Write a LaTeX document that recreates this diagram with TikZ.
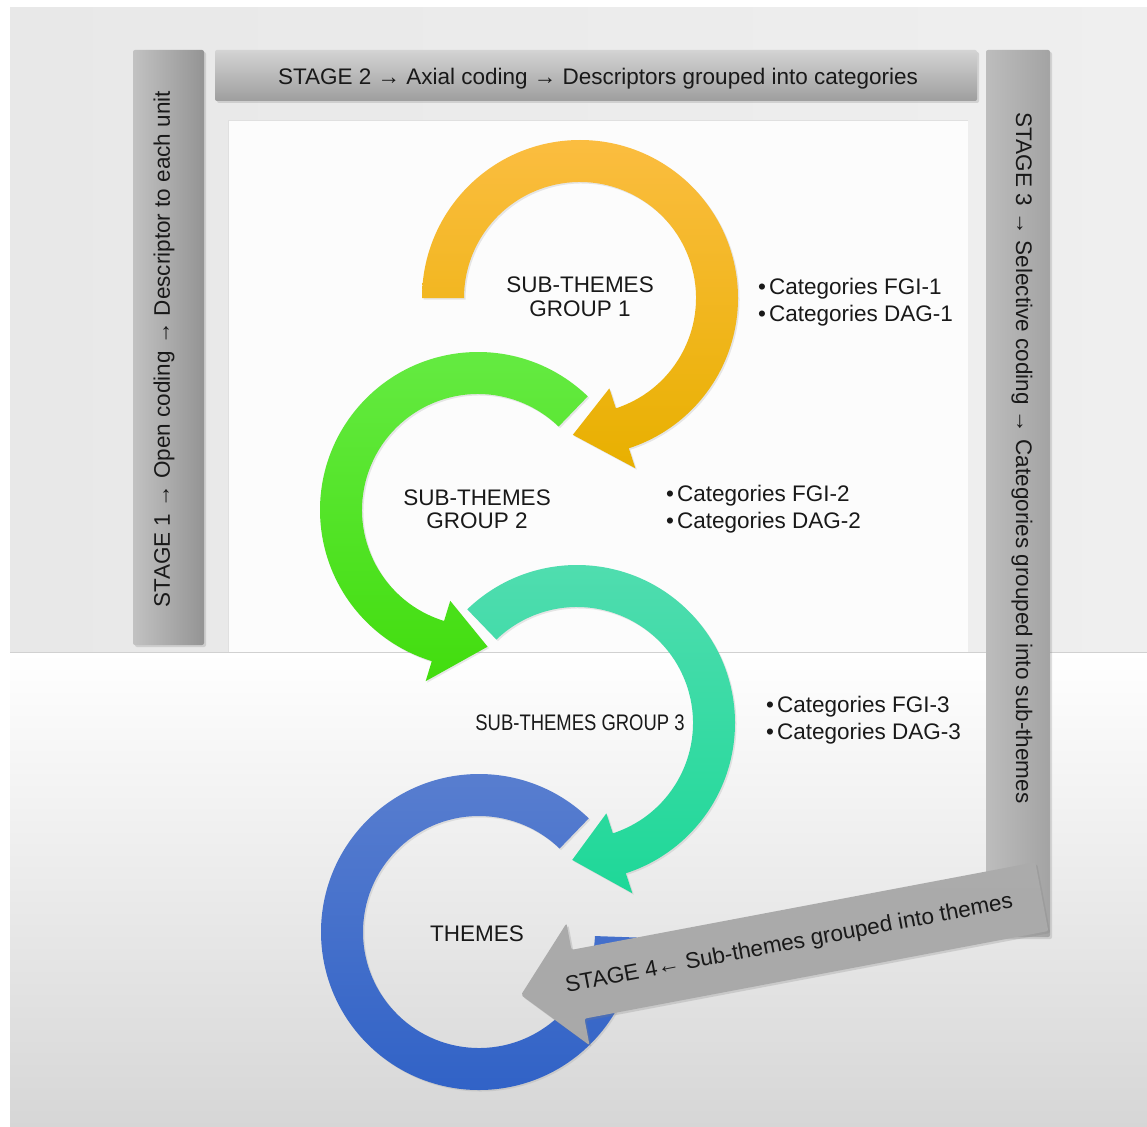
\documentclass[tikz,border=0pt]{standalone}
\usepackage{fontspec}
\setmainfont{Liberation Sans}
\usepackage{graphicx}
\usetikzlibrary{shadows}
\definecolor{bggray}{HTML}{E8E8E8}
\definecolor{ytop}{HTML}{FBBD40}\definecolor{ybot}{HTML}{E8B000}
\definecolor{gtop}{HTML}{66EB44}\definecolor{gbot}{HTML}{42DD0E}
\definecolor{ttop}{HTML}{52DDB0}\definecolor{tbot}{HTML}{1ED898}
\definecolor{btop}{HTML}{5A7FD0}\definecolor{bbot}{HTML}{2F61C6}
\tikzset{
	lbl/.style={inner sep=0pt, text=black!90, font=\fontsize{22.5}{23.5}\selectfont, align=center},
	catlist/.style={inner sep=0pt, anchor=west, text=black!90, font=\fontsize{22.5}{26.5}\selectfont, align=left},
	stagebar/.style={rounded corners=2pt, drop shadow={opacity=.25,shadow xshift=2pt,shadow yshift=-2pt}},
	arrowshadow/.style={drop shadow={opacity=.18,shadow xshift=1.5pt,shadow yshift=-1.5pt}}
}
% ring arrow: centre, start angle, head base angle, tip angle, top colour, bottom colour
\newcommand{\ringarrow}[6]{%
	\begin{scope}[shift={#1}]
		\shade[top color=#5, bottom color=#6, arrowshadow] (#2:158) arc[start angle=#2, end angle=#3, radius=158] -- (#3:179) -- (#4:137) -- (#3:95) -- (#3:116) arc[start angle=#3, end angle=#2, radius=116] -- cycle;
	\end{scope}}
\begin{document}
\begin{tikzpicture}[x=1pt,y=-1pt]
	\useasboundingbox (0,0) rectangle (1147,1126);
	\fill[white] (0,0) rectangle (1147,1126);
	% backgrounds
	\shade[left color=bggray, right color=bggray!70!white] (10,8) rectangle (1147,652);
	\fill[white!99!black] (228,120) rectangle (968,652);
	\draw[black!12] (228,652) -- (228,120) -- (968,120);
	\shade[top color=white, middle color=white!95!black, bottom color=black!16] (10,652) rectangle (1147,1126);
	\draw[black!18] (10,652) -- (1147,652);
	% stage bars
	\shade[left color=black!24, right color=black!42, stagebar] (133,50) rectangle (204,645);
	\shade[top color=black!17, bottom color=black!38, stagebar] (215,50) rectangle (977,101);
	\shade[left color=black!26, right color=black!36, stagebar] (986,50) rectangle (1050,937);
	\node[lbl, rotate=90] (stage1) at (164,349) {STAGE 1 → Open coding → Descriptor to each unit};
	\node[lbl] (stage2) at (598,79) {STAGE 2 → Axial coding → Descriptors grouped into categories};
	\node[lbl, rotate=-90] (stage3) at (1022,458) {STAGE 3 → Selective coding → Categories grouped into sub-themes};
	% ring arrows
	\begin{scope}[shift={(479,932)}]
		\shade[top color=btop, bottom color=bbot, arrowshadow] (-46:158) arc[start angle=-46, end angle=-358, radius=158] -- (2:116) arc[start angle=-358, end angle=-46, radius=116] -- cycle;
	\end{scope}
	\ringarrow{(577,723)}{226}{432}{452}{ttop}{tbot}
	\ringarrow{(478,510)}{-46}{-253}{-274}{gtop}{gbot}
	\ringarrow{(580,298)}{180}{432}{453}{ytop}{ybot}
	\node[lbl] (grp1) at (580,297) {SUB-THEMES\\GROUP 1};
	\node[lbl] (grp2) at (477,509) {SUB-THEMES\\GROUP 2};
	\node[lbl] (grp3) at (580,723) {\scalebox{0.82}[1]{SUB-THEMES GROUP 3}};
	\node[lbl] (themes) at (477,934) {THEMES};
	\node[catlist] (cat1) at (758,302) {•\hspace{3pt}Categories FGI-1\\•\hspace{3pt}Categories DAG-1};
	\node[catlist] (cat2) at (666,509) {•\hspace{3pt}Categories FGI-2\\•\hspace{3pt}Categories DAG-2};
	\node[catlist] (cat3) at (766,720) {•\hspace{3pt}Categories FGI-3\\•\hspace{3pt}Categories DAG-3};
	% stage 4 arrow
	\begin{scope}[shift={(521,995)}, rotate=10.7]
		\shade[top color=black!33, middle color=black!26, bottom color=black!34, stagebar] (0,0) -- (58,-62) -- (58,-35) -- (530,-35) -- (530,35) -- (58,35) -- (58,62) -- cycle;
		\node[lbl, rotate=10.7] (stage4) at (273,0) {STAGE 4← Sub-themes grouped into themes};
	\end{scope}
\end{tikzpicture}
\end{document}
